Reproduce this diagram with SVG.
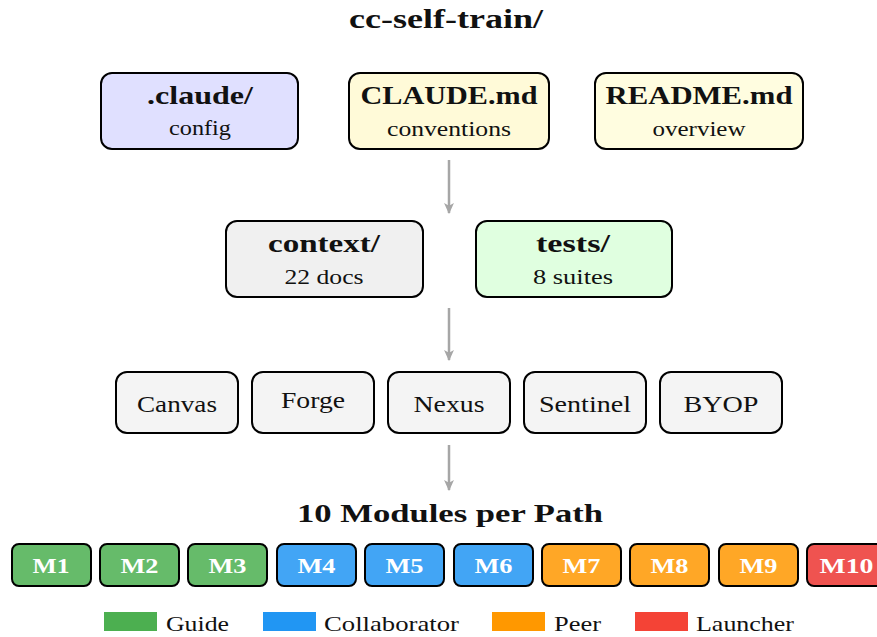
<svg xmlns="http://www.w3.org/2000/svg" width="877" height="637" viewBox="0 0 877 637" font-family="'Liberation Serif', 'DejaVu Serif', serif">
<defs>
<marker id="ah" viewBox="0 0 10 10" refX="9" refY="5" markerWidth="11" markerHeight="11" orient="auto" markerUnits="userSpaceOnUse">
<path d="M0,0.5 L10,5 L0,9.5 L2.5,5 Z" fill="#a6a6a6"/>
</marker>
<style>
text{font-family:'Liberation Serif','DejaVu Serif',serif;text-anchor:middle;fill:#111}
.b{font-weight:bold}
.box{stroke:#000;stroke-width:2}
.h{font-size:26px;font-weight:bold}
.s{font-size:22px}
.p{font-size:24px}
.m{font-size:21px;font-weight:bold;fill:#fff}
.lg{font-size:22px;text-anchor:start}
.conn{stroke:#a6a6a6;stroke-width:2.5;fill:none;marker-end:url(#ah)}
</style>
</defs>
<rect width="877" height="637" fill="#fff"/>
<text x="446" y="28" class="b" style="font-size:28px" textLength="194" lengthAdjust="spacingAndGlyphs">cc-self-train/</text>

<g id="claude-dir">
<rect class="box" x="101" y="73" width="197" height="76" rx="11" fill="#e0e0ff"/>
<text x="200" y="104" class="h" textLength="106" lengthAdjust="spacingAndGlyphs">.claude/</text>
<text x="200" y="135" class="s" textLength="62" lengthAdjust="spacingAndGlyphs">config</text>
</g>
<g id="claude-md">
<rect class="box" x="349" y="73" width="200" height="76" rx="11" fill="#fffad8"/>
<text x="449" y="104" class="h" textLength="177" lengthAdjust="spacingAndGlyphs">CLAUDE.md</text>
<text x="449" y="136" class="s" textLength="124" lengthAdjust="spacingAndGlyphs">conventions</text>
</g>
<g id="readme">
<rect class="box" x="595" y="73" width="208" height="76" rx="11" fill="#fffde0"/>
<text x="699" y="104" class="h" textLength="187" lengthAdjust="spacingAndGlyphs">README.md</text>
<text x="699" y="136" class="s" textLength="93" lengthAdjust="spacingAndGlyphs">overview</text>
</g>

<g id="context">
<rect class="box" x="226" y="221" width="197" height="76" rx="11" fill="#f0f0f0"/>
<text x="324" y="252" class="h" textLength="112" lengthAdjust="spacingAndGlyphs">context/</text>
<text x="324" y="284" class="s" textLength="79" lengthAdjust="spacingAndGlyphs">22 docs</text>
</g>
<g id="tests">
<rect class="box" x="476" y="221" width="196" height="76" rx="11" fill="#e0ffe0"/>
<text x="573" y="252" class="h" textLength="74" lengthAdjust="spacingAndGlyphs">tests/</text>
<text x="573" y="284" class="s" textLength="80" lengthAdjust="spacingAndGlyphs">8 suites</text>
</g>

<g id="canvas">
<rect class="box" x="116" y="372" width="122" height="61" rx="11" fill="#f4f4f4"/>
<text x="177" y="412" class="p" textLength="80" lengthAdjust="spacingAndGlyphs">Canvas</text>
</g>
<g id="forge">
<rect class="box" x="252" y="372" width="122" height="61" rx="11" fill="#f4f4f4"/>
<text x="313" y="408" class="p" textLength="64" lengthAdjust="spacingAndGlyphs">Forge</text>
</g>
<g id="nexus">
<rect class="box" x="388" y="372" width="122" height="61" rx="11" fill="#f4f4f4"/>
<text x="449" y="412" class="p" textLength="71" lengthAdjust="spacingAndGlyphs">Nexus</text>
</g>
<g id="sentinel">
<rect class="box" x="524" y="372" width="122" height="61" rx="11" fill="#f4f4f4"/>
<text x="585" y="412" class="p" textLength="92" lengthAdjust="spacingAndGlyphs">Sentinel</text>
</g>
<g id="byop">
<rect class="box" x="660" y="372" width="122" height="61" rx="11" fill="#f4f4f4"/>
<text x="721" y="412" class="p" textLength="75" lengthAdjust="spacingAndGlyphs">BYOP</text>
</g>

<g id="connectors">
<line class="conn" x1="449" y1="160" x2="449" y2="213"/>
<line class="conn" x1="449" y1="308" x2="449" y2="360"/>
<line class="conn" x1="449" y1="445" x2="449" y2="490"/>
</g>

<text x="450" y="522" class="b" style="font-size:26px" textLength="306" lengthAdjust="spacingAndGlyphs">10 Modules per Path</text>

<g id="m1"><rect class="box" x="12" y="544" width="79" height="42" rx="7" fill="#66bb6a"/><text x="51" y="573" class="m" textLength="37" lengthAdjust="spacingAndGlyphs">M1</text></g>
<g id="m2"><rect class="box" x="100" y="544" width="79" height="42" rx="7" fill="#66bb6a"/><text x="139.5" y="573" class="m" textLength="38" lengthAdjust="spacingAndGlyphs">M2</text></g>
<g id="m3"><rect class="box" x="188" y="544" width="79" height="42" rx="7" fill="#66bb6a"/><text x="227.5" y="573" class="m" textLength="38" lengthAdjust="spacingAndGlyphs">M3</text></g>
<g id="m4"><rect class="box" x="277" y="544" width="79" height="42" rx="7" fill="#42a5f5"/><text x="316.5" y="573" class="m" textLength="38" lengthAdjust="spacingAndGlyphs">M4</text></g>
<g id="m5"><rect class="box" x="365" y="544" width="79" height="42" rx="7" fill="#42a5f5"/><text x="404.5" y="573" class="m" textLength="38" lengthAdjust="spacingAndGlyphs">M5</text></g>
<g id="m6"><rect class="box" x="454" y="544" width="79" height="42" rx="7" fill="#42a5f5"/><text x="493.5" y="573" class="m" textLength="38" lengthAdjust="spacingAndGlyphs">M6</text></g>
<g id="m7"><rect class="box" x="542" y="544" width="79" height="42" rx="7" fill="#ffa726"/><text x="581.5" y="573" class="m" textLength="38" lengthAdjust="spacingAndGlyphs">M7</text></g>
<g id="m8"><rect class="box" x="630" y="544" width="79" height="42" rx="7" fill="#ffa726"/><text x="669.5" y="573" class="m" textLength="38" lengthAdjust="spacingAndGlyphs">M8</text></g>
<g id="m9"><rect class="box" x="719" y="544" width="79" height="42" rx="7" fill="#ffa726"/><text x="758.5" y="573" class="m" textLength="38" lengthAdjust="spacingAndGlyphs">M9</text></g>
<g id="m10"><rect class="box" x="807" y="544" width="79" height="42" rx="7" fill="#ef5350"/><text x="846.5" y="573" class="m" textLength="54" lengthAdjust="spacingAndGlyphs">M10</text></g>

<g id="legend">
<rect x="104" y="612" width="53" height="19" fill="#4caf50"/>
<text x="166" y="631" class="lg" textLength="63" lengthAdjust="spacingAndGlyphs">Guide</text>
<rect x="263" y="612" width="53" height="19" fill="#2196f3"/>
<text x="324" y="631" class="lg" textLength="135" lengthAdjust="spacingAndGlyphs">Collaborator</text>
<rect x="492" y="612" width="53" height="19" fill="#ff9800"/>
<text x="554" y="631" class="lg" textLength="47" lengthAdjust="spacingAndGlyphs">Peer</text>
<rect x="635" y="612" width="53" height="19" fill="#f44336"/>
<text x="696" y="631" class="lg" textLength="98" lengthAdjust="spacingAndGlyphs">Launcher</text>
</g>
</svg>
